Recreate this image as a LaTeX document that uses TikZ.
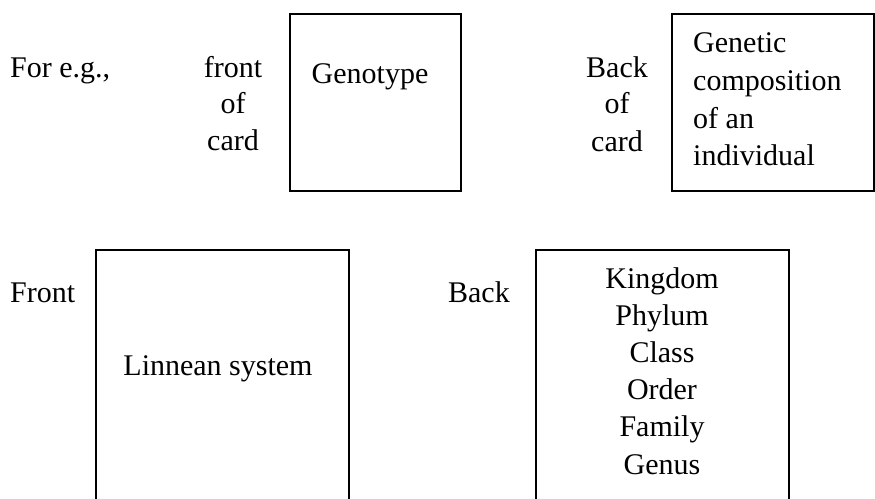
\documentclass[tikz,border=0pt]{standalone}
\usepackage{fontspec}
\setmainfont{Liberation Serif}
\begin{document}
\begin{tikzpicture}[x=1pt, y=-1pt,
  card/.style={draw, line width=1.6pt, inner sep=0pt, anchor=north west},
  txt/.style={inner sep=0pt, font=\fontsize{30}{36}\selectfont},
  ctr/.style={txt, anchor=base},
  lft/.style={txt, anchor=base west},
  rgt/.style={txt, anchor=base east}]
\clip (0,0) rectangle (875,498);

% card outlines
\node[card, minimum width=171pt, minimum height=177pt] (genocard) at (289,13) {};
\node[card, minimum width=202pt, minimum height=177pt] (defcard)  at (671,13) {};
\node[card, minimum width=253pt, minimum height=280pt] (linncard) at (95,249) {};
\node[card, minimum width=253pt, minimum height=280pt] (rankcard) at (535,249) {};

% first example
\node[lft] (eg) at (10,77) {For e.g.,};
\node[ctr] (fr1) at (233,77)  {front};
\node[ctr] (fr2) at (233,113) {of};
\node[ctr] (fr3) at (233,150) {card};
\node[ctr] (geno) at (370,83) {Genotype};
\node[ctr] (bk1) at (617,77)  {Back};
\node[ctr] (bk2) at (617,113) {of};
\node[ctr] (bk3) at (617,151) {card};
\node[lft] (def1) at (693,52)  {Genetic};
\node[lft] (def2) at (693,90)  {composition};
\node[lft] (def3) at (693,128) {of an};
\node[lft] (def4) at (693,165) {individual};

% second example
\node[lft] (front) at (10,302) {Front};
\node[ctr] (linn) at (218,375) {Linnean system};
\node[rgt] (back) at (510,302) {Back};
\foreach \w [count=\i from 0] in {Kingdom,Phylum,Class,Order,Family,Genus}
  \node[ctr] (rank\i) at (662,288+37.2*\i) {\w};
\end{tikzpicture}
\end{document}
